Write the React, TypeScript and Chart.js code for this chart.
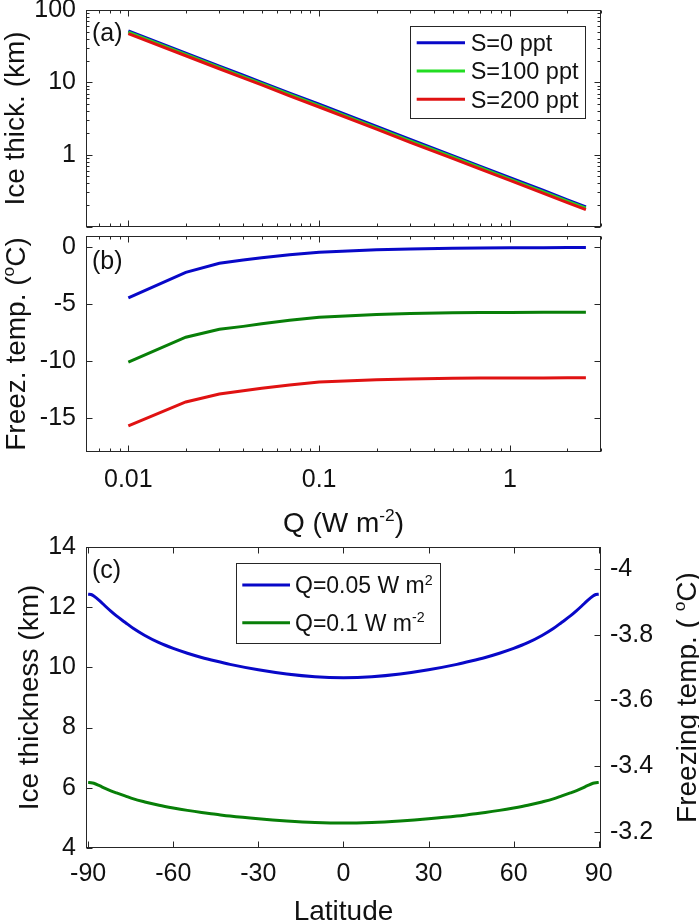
import React, { useEffect, useRef } from 'react';
import { Chart, registerables } from 'chart.js';

Chart.register(...registerables);

const FONT = "'Liberation Sans', Arial, Helvetica, sans-serif";
const AXIS_COLOR = '#262626';
const TEXT_COLOR = '#111111';
const BLUE = '#0808c8';
const LIME = '#22dd22';
const DKGREEN = '#087f08';
const RED = '#e01212';

// ===== Panel (a)/(b) data =====
const Q_VALUES = [0.01, 0.02, 0.03, 0.04, 0.05, 0.07, 0.1, 0.2, 0.3, 0.5, 0.7, 1, 1.5, 2, 2.5];
const THICK_S0 = [51.6, 25.4, 16.8, 12.6, 10.0, 7.1, 4.98, 2.45, 1.62, 0.97, 0.69, 0.48, 0.32, 0.237, 0.19];
const THICK_S100 = [49.4, 24.4, 16.1, 12.0, 9.6, 6.8, 4.77, 2.35, 1.55, 0.93, 0.66, 0.46, 0.305, 0.227, 0.182];
const THICK_S200 = [47.2, 23.3, 15.4, 11.5, 9.2, 6.5, 4.56, 2.25, 1.48, 0.89, 0.63, 0.44, 0.292, 0.217, 0.174];
const FREEZ_S0 = [-4.45, -2.2, -1.4, -1.12, -0.92, -0.64, -0.42, -0.2, -0.14, -0.08, -0.06, -0.04, -0.03, -0.02, -0.02];
const FREEZ_S100 = [-10.1, -7.9, -7.2, -6.95, -6.72, -6.42, -6.15, -5.9, -5.82, -5.76, -5.74, -5.72, -5.71, -5.7, -5.7];
const FREEZ_S200 = [-15.7, -13.6, -12.9, -12.62, -12.4, -12.1, -11.85, -11.65, -11.58, -11.52, -11.5, -11.49, -11.48, -11.47, -11.47];
const S_LABELS = ['S=0 ppt', 'S=100 ppt', 'S=200 ppt'];

// ===== Panel (c) data =====
const LATITUDE = [-90, -89, -88, -86, -84, -82, -80, -77, -74, -70, -65, -60, -55, -50, -45, -40, -30, -20, -10, 0,
  10, 20, 30, 40, 45, 50, 55, 60, 65, 70, 74, 77, 80, 82, 84, 86, 88, 89, 90];
const THICK_Q005 = [12.43, 12.42, 12.37, 12.22, 12.04, 11.87, 11.71, 11.5, 11.29, 11.06, 10.82, 10.63, 10.47, 10.33, 10.21, 10.1, 9.92, 9.78, 9.69, 9.66,
  9.69, 9.78, 9.92, 10.1, 10.21, 10.33, 10.47, 10.63, 10.82, 11.06, 11.29, 11.5, 11.71, 11.87, 12.04, 12.22, 12.37, 12.42, 12.43];
const THICK_Q01 = [6.18, 6.17, 6.15, 6.07, 5.98, 5.9, 5.83, 5.73, 5.63, 5.53, 5.42, 5.33, 5.25, 5.18, 5.12, 5.06, 4.97, 4.9, 4.85, 4.83,
  4.85, 4.9, 4.97, 5.06, 5.12, 5.18, 5.25, 5.33, 5.42, 5.53, 5.63, 5.73, 5.83, 5.9, 5.98, 6.07, 6.15, 6.17, 6.18];
const Q_LABELS = ['Q=0.05 W m^{2}', 'Q=0.1 W m^{-2}'];

// ===== Ticks =====
const Q_TICKS = [0.01, 0.1, 1];
const Q_TICK_LABELS = ['0.01', '0.1', '1'];
const Q_MINOR = [0.006, 0.007, 0.008, 0.009, 0.02, 0.03, 0.04, 0.05, 0.06, 0.07, 0.08, 0.09, 0.2, 0.3, 0.4, 0.5, 0.6, 0.7, 0.8, 0.9, 2, 3];
const THICK_TICKS = [1, 10, 100];
const THICK_TICK_LABELS = ['1', '10', '100'];
const THICK_MINOR = [0.2, 0.3, 0.4, 0.5, 0.6, 0.7, 0.8, 0.9, 2, 3, 4, 5, 6, 7, 8, 9, 20, 30, 40, 50, 60, 70, 80, 90];
const FREEZ_TICKS = [-15, -10, -5, 0];
const FREEZ_TICK_LABELS = ['-15', '-10', '-5', '0'];
const LAT_TICKS = [-90, -60, -30, 0, 30, 60, 90];
const LAT_TICK_LABELS = ['-90', '-60', '-30', '0', '30', '60', '90'];
const ICE_TICKS = [4, 6, 8, 10, 12, 14];
const ICE_TICK_LABELS = ['4', '6', '8', '10', '12', '14'];
const TF_TICKS = [-4, -3.8, -3.6, -3.4, -3.2];
const TF_TICK_LABELS = ['-4', '-3.8', '-3.6', '-3.4', '-3.2'];

const SUP_SCALE = 0.62;
const SUP_RISE = 0.38;

type Seg = { t: string; sup: boolean };
function parseRich(s: string): Seg[] {
  const segs: Seg[] = [];
  const re = /\^\{([^}]*)\}/g;
  let last = 0;
  let m: RegExpExecArray | null;
  while ((m = re.exec(s))) {
    if (m.index > last) segs.push({ t: s.slice(last, m.index), sup: false });
    segs.push({ t: m[1], sup: true });
    last = re.lastIndex;
  }
  if (last < s.length) segs.push({ t: s.slice(last), sup: false });
  return segs;
}
const fontStr = (size: number) => `${size}px ${FONT}`;
function richWidth(ctx: CanvasRenderingContext2D, segs: Seg[], size: number) {
  let w = 0;
  for (const s of segs) {
    ctx.font = fontStr(s.sup ? size * SUP_SCALE : size);
    w += ctx.measureText(s.t).width;
  }
  return w;
}
function drawRich(ctx: CanvasRenderingContext2D, segs: Seg[], x: number, y: number, size: number) {
  let cx = x;
  for (const s of segs) {
    ctx.font = fontStr(s.sup ? size * SUP_SCALE : size);
    ctx.fillText(s.t, cx, s.sup ? y - size * SUP_RISE : y);
    cx += ctx.measureText(s.t).width;
  }
}

const matlabPlugin = {
  id: 'matlab',
  afterDraw(chart: any, _args: any, opts: any) {
    if (!opts || !opts.enabled) return;
    const ctx: CanvasRenderingContext2D = chart.ctx;
    const ca = chart.chartArea;
    const off = opts.offsetY || 0;
    const L = Math.round(ca.left) + 0.5;
    const R = Math.round(ca.right) - 0.5;
    const T = Math.round(ca.top) + 0.5;
    const B = Math.round(ca.bottom) - 0.5;
    ctx.save();
    ctx.strokeStyle = AXIS_COLOR;
    ctx.lineWidth = 1;
    ctx.beginPath();
    for (const spec of opts.tickMarks || []) {
      const sc = chart.scales[spec.axis];
      const horiz = sc.isHorizontal();
      const mark = (v: number, len: number) => {
        const p = Math.round(sc.getPixelForValue(v)) + 0.5;
        if (horiz) {
          if (p < L - 1 || p > R + 1) return;
          for (const side of spec.sides) {
            if (side === 'bottom') { ctx.moveTo(p, B); ctx.lineTo(p, B - len); }
            else { ctx.moveTo(p, T); ctx.lineTo(p, T + len); }
          }
        } else {
          if (p < T - 1 || p > B + 1) return;
          for (const side of spec.sides) {
            if (side === 'left') { ctx.moveTo(L, p); ctx.lineTo(L + len, p); }
            else { ctx.moveTo(R, p); ctx.lineTo(R - len, p); }
          }
        }
      };
      spec.major.forEach((v: number) => mark(v, 6));
      (spec.minor || []).forEach((v: number) => mark(v, 3));
    }
    ctx.stroke();
    ctx.strokeRect(L, T, R - L, B - T);

    ctx.fillStyle = TEXT_COLOR;
    ctx.textBaseline = 'alphabetic';
    ctx.textAlign = 'left';
    for (const t of opts.texts || []) {
      const segs = parseRich(t.text);
      const w = richWidth(ctx, segs, t.size);
      if (t.kind === 'vtitle') {
        const cy = (ca.top + ca.bottom) / 2;
        ctx.save();
        ctx.translate(t.baselineX, cy);
        ctx.rotate(-Math.PI / 2);
        drawRich(ctx, segs, -w / 2, 0, t.size);
        ctx.restore();
      } else if (t.kind === 'htitle') {
        drawRich(ctx, segs, (ca.left + ca.right) / 2 - w / 2, t.baselineY - off, t.size);
      } else if (t.kind === 'panel') {
        drawRich(ctx, segs, ca.left + t.dx, ca.top + t.dy, t.size);
      }
    }

    const lg = opts.legend;
    if (lg) {
      const items = chart.data.datasets.map((d: any) => ({ segs: parseRich(d.label), color: d.borderColor }));
      let maxW = 0;
      items.forEach((it: any) => { maxW = Math.max(maxW, richWidth(ctx, it.segs, lg.size)); });
      const w = lg.padLeft + lg.lineLen + lg.textGap + maxW + lg.padRight;
      const h = lg.padTop + lg.rowH * (items.length - 1) + lg.padBottom;
      const x0 = lg.anchor === 'right' ? ca.right - lg.dx - w : ca.left + lg.dx;
      const y0 = ca.top + lg.dy;
      ctx.fillStyle = '#ffffff';
      ctx.fillRect(x0, y0, w, h);
      ctx.strokeStyle = AXIS_COLOR;
      ctx.lineWidth = 1;
      ctx.strokeRect(Math.round(x0) + 0.5, Math.round(y0) + 0.5, Math.round(w), Math.round(h));
      items.forEach((it: any, i: number) => {
        const cy = y0 + lg.padTop + i * lg.rowH;
        ctx.strokeStyle = it.color;
        ctx.lineWidth = 3;
        ctx.beginPath();
        ctx.moveTo(x0 + lg.padLeft, cy);
        ctx.lineTo(x0 + lg.padLeft + lg.lineLen, cy);
        ctx.stroke();
        ctx.fillStyle = TEXT_COLOR;
        drawRich(ctx, it.segs, x0 + lg.padLeft + lg.lineLen + lg.textGap, cy + 0.36 * lg.size, lg.size);
      });
    }
    ctx.restore();
  },
};
Chart.register(matlabPlugin as any);

const pts = (xs: number[], ys: number[]) => xs.map((x, i) => ({ x, y: ys[i] }));
const zeroPad = (s: any) => { s.paddingTop = 0; s.paddingBottom = 0; s.paddingLeft = 0; s.paddingRight = 0; };
const TICK_FONT = { family: FONT, size: 25 };

function axis(type: string, min: number, max: number, ticks: number[] | null, labels: string[] | null, extra: any) {
  return {
    type,
    min,
    max,
    grid: { display: false, drawTicks: false },
    border: { display: false },
    ticks: {
      display: !!ticks,
      font: TICK_FONT,
      color: TEXT_COLOR,
      autoSkip: false,
      maxRotation: 0,
      minRotation: 0,
      padding: extra.padding ?? 10,
      callback: (_v: any, i: number) => (labels ? labels[i] : ''),
    },
    afterBuildTicks: (s: any) => { if (ticks) s.ticks = ticks.map((v) => ({ value: v })); },
    afterFit: (s: any) => {
      if (extra.width !== undefined) s.width = extra.width;
      if (extra.height !== undefined) s.height = extra.height;
      zeroPad(s);
    },
    ...(extra.more || {}),
  };
}

const baseOpts = (padTop: number, padRight: number) => ({
  responsive: false,
  animation: false,
  events: [],
  layout: { padding: { left: 0, right: padRight, top: padTop, bottom: 0 } },
  elements: { point: { radius: 0 }, line: { borderWidth: 3, tension: 0 } },
});

function configA() {
  return {
    type: 'line',
    data: {
      datasets: [
        { label: S_LABELS[0], data: pts(Q_VALUES, THICK_S0), borderColor: BLUE, order: 2 },
        { label: S_LABELS[1], data: pts(Q_VALUES, THICK_S100), borderColor: LIME, order: 1 },
        { label: S_LABELS[2], data: pts(Q_VALUES, THICK_S200), borderColor: RED, order: 0 },
      ],
    },
    options: {
      ...baseOpts(10, 98),
      plugins: {
        legend: { display: false },
        tooltip: { enabled: false },
        matlab: {
          enabled: true,
          offsetY: 0,
          tickMarks: [
            { axis: 'x', major: Q_TICKS, minor: Q_MINOR, sides: ['bottom', 'top'] },
            { axis: 'y', major: [0.1, ...THICK_TICKS], minor: THICK_MINOR, sides: ['left', 'right'] },
          ],
          texts: [
            { kind: 'vtitle', text: 'Ice thick. (km)', baselineX: 24, size: 28 },
            { kind: 'panel', text: '(a)', dx: 6, dy: 31, size: 25 },
          ],
          legend: { anchor: 'right', dx: 16.5, dy: 15.7, padLeft: 6.7, lineLen: 48.3, textGap: 5.7, padRight: 6, padTop: 17, rowH: 28.3, padBottom: 18, size: 23.5 },
        },
      },
      scales: {
        x: axis('logarithmic', 0.006, 3, null, null, { height: 5 }),
        y: axis('logarithmic', 0.1, 100, THICK_TICKS, THICK_TICK_LABELS, { width: 86, padding: 10 }),
      },
    },
  };
}

function configB() {
  return {
    type: 'line',
    data: {
      datasets: [
        { label: S_LABELS[0], data: pts(Q_VALUES, FREEZ_S0), borderColor: BLUE },
        { label: S_LABELS[1], data: pts(Q_VALUES, FREEZ_S100), borderColor: DKGREEN },
        { label: S_LABELS[2], data: pts(Q_VALUES, FREEZ_S200), borderColor: RED },
      ],
    },
    options: {
      ...baseOpts(10, 98),
      plugins: {
        legend: { display: false },
        tooltip: { enabled: false },
        matlab: {
          enabled: true,
          offsetY: 226,
          tickMarks: [
            { axis: 'x', major: Q_TICKS, minor: Q_MINOR, sides: ['bottom', 'top'] },
            { axis: 'y', major: FREEZ_TICKS, sides: ['left', 'right'] },
          ],
          texts: [
            { kind: 'vtitle', text: 'Freez. temp. (^{o}C)', baselineX: 25, size: 28 },
            { kind: 'htitle', text: 'Q (W m^{-2})', baselineY: 531.7, size: 28 },
            { kind: 'panel', text: '(b)', dx: 6, dy: 32.5, size: 25 },
          ],
        },
      },
      scales: {
        x: axis('logarithmic', 0.006, 3, Q_TICKS, Q_TICK_LABELS, { height: 94, padding: 13 }),
        y: axis('linear', -18, 1, FREEZ_TICKS, FREEZ_TICK_LABELS, { width: 86, padding: 10 }),
      },
    },
  };
}

function configC() {
  return {
    type: 'line',
    data: {
      datasets: [
        { label: Q_LABELS[0], data: pts(LATITUDE, THICK_Q005), borderColor: BLUE, cubicInterpolationMode: 'monotone', yAxisID: 'y' },
        { label: Q_LABELS[1], data: pts(LATITUDE, THICK_Q01), borderColor: DKGREEN, cubicInterpolationMode: 'monotone', yAxisID: 'y' },
      ],
    },
    options: {
      ...baseOpts(17, 0),
      plugins: {
        legend: { display: false },
        tooltip: { enabled: false },
        matlab: {
          enabled: true,
          offsetY: 530,
          tickMarks: [
            { axis: 'x', major: LAT_TICKS, sides: ['bottom', 'top'] },
            { axis: 'y', major: ICE_TICKS, sides: ['left'] },
            { axis: 'y2', major: TF_TICKS, sides: ['right'] },
          ],
          texts: [
            { kind: 'vtitle', text: 'Ice thickness (km)', baselineX: 37.5, size: 28 },
            { kind: 'vtitle', text: 'Freezing temp. ( ^{o}C)', baselineX: 696, size: 28 },
            { kind: 'htitle', text: 'Latitude', baselineY: 919.5, size: 28 },
            { kind: 'panel', text: '(c)', dx: 6, dy: 30.5, size: 25 },
          ],
          legend: { anchor: 'left', dx: 150, dy: 16.3, padLeft: 6.3, lineLen: 47.7, textGap: 5, padRight: 7.7, padTop: 21.7, rowH: 37.7, padBottom: 20.6, size: 23 },
        },
      },
      scales: {
        x: axis('linear', -90.75, 90.8, LAT_TICKS, LAT_TICK_LABELS, { height: 73, padding: 11 }),
        y: axis('linear', 4, 14, ICE_TICKS, ICE_TICK_LABELS, { width: 86, padding: 10, more: { position: 'left' } }),
        y2: axis('linear', -4.067, -3.151, TF_TICKS, TF_TICK_LABELS, { width: 98, padding: 9, more: { position: 'right', reverse: true, display: true } }),
      },
    },
  };
}

function Panel({ top, height, build }: { top: number; height: number; build: () => any }) {
  const ref = useRef<HTMLCanvasElement>(null);
  useEffect(() => {
    const chart = new Chart(ref.current as HTMLCanvasElement, build());
    return () => chart.destroy();
  }, []);
  return (
    <canvas
      ref={ref}
      width={699}
      height={height}
      style={{ position: 'absolute', left: 0, top, width: 699, height }}
    />
  );
}

export default function App() {
  return (
    <div style={{ position: 'absolute', left: 0, top: 0, width: 699, height: 921, background: '#ffffff', overflow: 'hidden' }}>
      <Panel top={0} height={232} build={configA} />
      <Panel top={226} height={320} build={configB} />
      <Panel top={530} height={391} build={configC} />
    </div>
  );
}
